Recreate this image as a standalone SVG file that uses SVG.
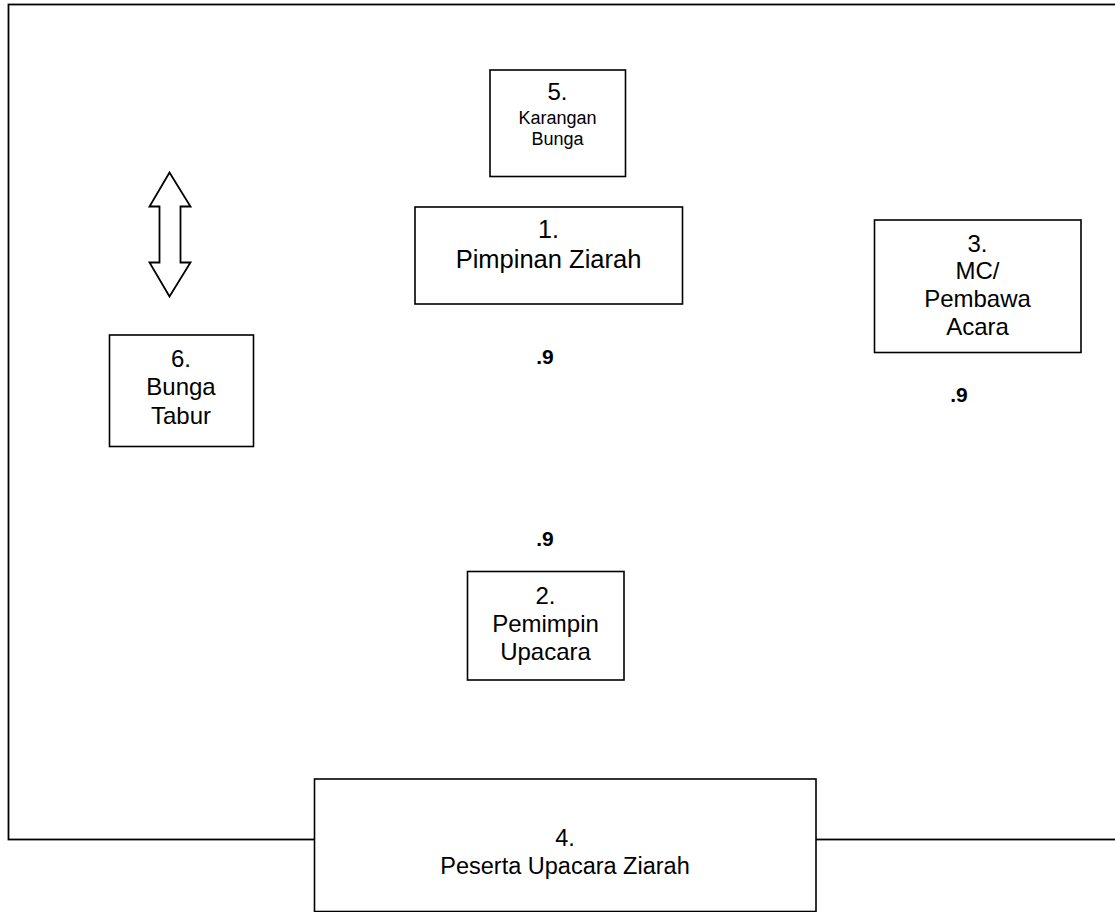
<svg xmlns="http://www.w3.org/2000/svg" width="1115" height="912" viewBox="0 0 1115 912">
<style>
.box{fill:#fff;stroke:#000;stroke-width:1.6}
.t{font-family:"Liberation Sans",Arial,sans-serif;font-size:24px;fill:#000;text-anchor:middle}
.s{font-size:18px}
.b{font-family:"Liberation Sans",Arial,sans-serif;font-size:21px;font-weight:bold;fill:#000;text-anchor:middle}
</style>
<rect width="1115" height="912" fill="#fff"/>
<g id="frame">
<rect x="8.5" y="4.5" width="1120" height="835" fill="none" stroke="#000" stroke-width="1.8"/>
</g>
<g id="connectors">
<polygon points="169.5,172.5 190.5,206.5 180.5,206.5 180.5,262.5 190.5,262.5 169.5,296.5 149.5,262.5 159.5,262.5 159.5,206.5 149.5,206.5" fill="#fff" stroke="#000" stroke-width="1.8" stroke-linejoin="miter"/>
</g>
<g id="node5">
<rect class="box" x="490" y="70" width="135.5" height="106.5"/>
<text class="t" x="557.5" y="100">5.</text>
<text class="t s" x="557.5" y="124">Karangan</text>
<text class="t s" x="557.5" y="145">Bunga</text>
</g>
<g id="node1">
<rect class="box" x="415" y="207" width="267.5" height="97"/>
<text class="t" x="548.5" y="238" style="font-size:25px">1.</text>
<text class="t" x="548.5" y="268" style="font-size:25.5px">Pimpinan Ziarah</text>
</g>
<g id="node3">
<rect class="box" x="874.5" y="220" width="206.5" height="132.5"/>
<text class="t" x="977.5" y="251.5">3.</text>
<text class="t" x="977.5" y="278.5">MC/</text>
<text class="t" x="977.5" y="306.5">Pembawa</text>
<text class="t" x="977.5" y="335">Acara</text>
</g>
<g id="node6">
<rect class="box" x="109.5" y="335" width="144" height="111.5"/>
<text class="t" x="181" y="366.5">6.</text>
<text class="t" x="181" y="395">Bunga</text>
<text class="t" x="181" y="423.5">Tabur</text>
</g>
<g id="labels">
<text class="b" x="545" y="364">.9</text>
<text class="b" x="959" y="402">.9</text>
<text class="b" x="545" y="545.5">.9</text>
</g>
<g id="node2">
<rect class="box" x="467.5" y="571.5" width="156.5" height="108.5"/>
<text class="t" x="545.5" y="603.5">2.</text>
<text class="t" x="545.5" y="631.5">Pemimpin</text>
<text class="t" x="545.5" y="659.5">Upacara</text>
</g>
<g id="node4">
<rect class="box" x="314.5" y="779" width="501.5" height="132.5"/>
<text class="t" x="565" y="846" style="font-size:23.5px">4.</text>
<text class="t" x="565" y="874" style="font-size:23.5px">Peserta Upacara Ziarah</text>
</g>
</svg>
